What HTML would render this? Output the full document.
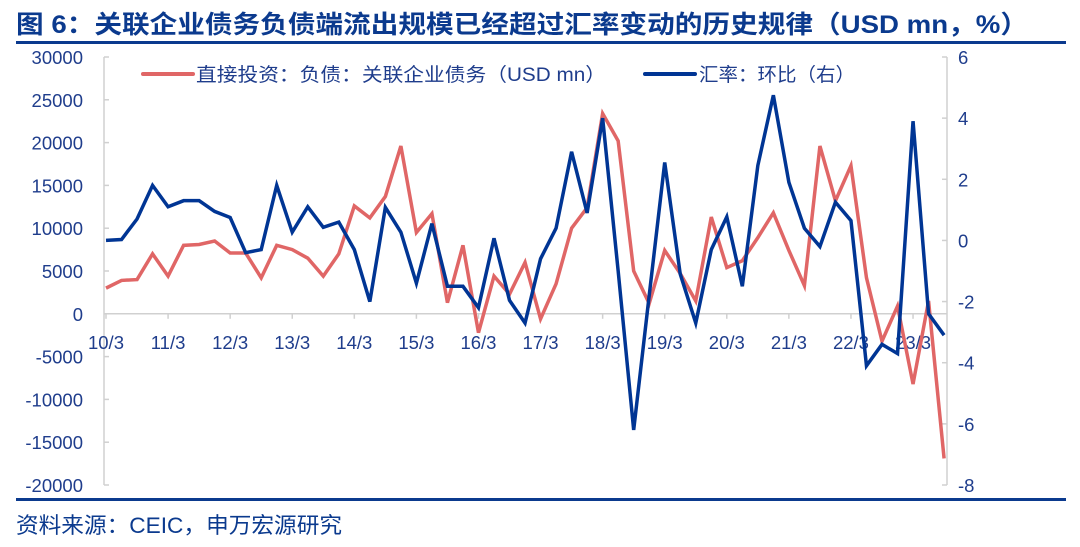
<!DOCTYPE html>
<html><head><meta charset="utf-8">
<style>
body{margin:0;width:1080px;height:542px;background:#fff;overflow:hidden;font-family:"Liberation Sans","Noto Sans CJK SC",sans-serif;}
svg text{font-family:"Liberation Sans","Noto Sans CJK SC",sans-serif;}
</style></head>
<body>
<svg id="chart" width="1080" height="542" xmlns="http://www.w3.org/2000/svg">
<text x="16" y="33" font-size="25" font-weight="bold" fill="#0b3a8e" textLength="1012" lengthAdjust="spacingAndGlyphs">图 6：关联企业债务负债端流出规模已经超过汇率变动的历史规律（USD mn，%）</text>
<rect x="16" y="41" width="1050" height="3" fill="#0b3a8e"/>
<rect x="16" y="498" width="1050" height="3" fill="#0b3a8e"/>
<text x="16" y="533" font-size="22" fill="#0b3a8e" textLength="326" lengthAdjust="spacingAndGlyphs">资料来源：CEIC，申万宏源研究</text>
<g id="axes"></g>
<g id="marks"></g>
<g>
<line x1="143" y1="74" x2="193" y2="74" stroke="#e06666" stroke-width="4" stroke-linecap="round"/>
<text x="196" y="81" font-size="19" fill="#1f3d8c" textLength="410" lengthAdjust="spacingAndGlyphs">直接投资：负债：关联企业债务（USD  mn）</text>
<line x1="645" y1="74" x2="695" y2="74" stroke="#003594" stroke-width="4" stroke-linecap="round"/>
<text x="699" y="81" font-size="19" fill="#1f3d8c" textLength="156" lengthAdjust="spacingAndGlyphs">汇率：环比（右）</text>
</g>
</svg>
<script>
const yearLabels = ["10/3","11/3","12/3","13/3","14/3","15/3","16/3","17/3","18/3","19/3","20/3","21/3","22/3","23/3"];
const leftTicks = [30000,25000,20000,15000,10000,5000,0,-5000,-10000,-15000,-20000];
const rightTicks = [6,4,2,0,-2,-4,-6,-8];
const fdiDebt = [3000,3900,4000,7000,4400,8000,8100,8500,7100,7100,4200,8000,7500,6500,4400,7000,12600,11200,13700,19600,9500,11700,1300,8000,-2200,4400,2300,6000,-600,3500,10000,12400,23400,20200,5000,1200,7400,4700,1500,11300,5400,6200,8900,11800,7400,3300,19600,13200,17300,4200,-3200,900,-8200,1500,-16900];
const fxQoQ = [0.0,0.03,0.7,1.8,1.1,1.3,1.3,0.95,0.75,-0.4,-0.3,1.8,0.27,1.1,0.43,0.6,-0.3,-2.0,1.08,0.27,-1.4,0.55,-1.5,-1.5,-2.2,0.07,-1.96,-2.7,-0.6,0.4,2.9,0.9,4.0,-1.0,-6.2,-1.8,2.55,-1.1,-2.7,-0.3,0.77,-1.5,2.45,4.75,1.9,0.4,-0.2,1.25,0.65,-4.1,-3.4,-3.7,3.9,-2.4,-3.1];

const NS="http://www.w3.org/2000/svg";
const X0=106, QW=15.52, TOP=57, BOT=485;
const xq = i => X0 + i*QW;
const yL = v => BOT - (v - (-20000)) / 50000 * (BOT-TOP);
const yR = v => BOT - (v - (-8)) / 14 * (BOT-TOP);
const axes=document.getElementById('axes'), marks=document.getElementById('marks');
function mk(tag,attrs,parent){const e=document.createElementNS(NS,tag);for(const k in attrs)e.setAttribute(k,attrs[k]);parent.appendChild(e);return e;}
const grey="#d0d0d0", txt="#1f3d8c";
let e;
e=mk('line',{x1:104,y1:TOP,x2:104,y2:BOT,stroke:grey,'stroke-width':1.5},axes);


e=mk('line',{x1:947,y1:TOP,x2:947,y2:BOT,stroke:grey,'stroke-width':1.5},axes);


e=mk('line',{x1:104,y1:yL(0),x2:947,y2:yL(0),stroke:grey,'stroke-width':1.5},axes);


leftTicks.forEach(v=>{
  const y=yL(v);
  let t=mk('line',{x1:104,y1:y,x2:109,y2:y,stroke:grey,'stroke-width':1.5},axes);
  
  
  let l=mk('text',{x:83,y:y+7,'font-size':18.5,fill:txt,'text-anchor':'end'},axes);
  l.textContent=v;
  
  
});
rightTicks.forEach(v=>{
  const y=yR(v);
  let t=mk('line',{x1:942,y1:y,x2:947,y2:y,stroke:grey,'stroke-width':1.5},axes);
  
  
  let l=mk('text',{x:958,y:y+7,'font-size':18.5,fill:txt},axes);
  l.textContent=v;
  
  
});
yearLabels.forEach((s,k)=>{
  const x=xq(k*4), y0=yL(0);
  let t=mk('line',{x1:x,y1:y0,x2:x,y2:y0+5,stroke:grey,'stroke-width':1.5},axes);
  
  
  let l=mk('text',{x:x,y:y0+35,'font-size':18.5,fill:txt,'text-anchor':'middle'},axes);
  l.textContent=s;
  
  
});
let p=mk('polyline',{points:fdiDebt.map((v,i)=>xq(i)+','+yL(v)).join(' '),fill:'none',stroke:'#e06666','stroke-width':3.5,'stroke-linejoin':'miter'},marks);


p=mk('polyline',{points:fxQoQ.map((v,i)=>xq(i)+','+yR(v)).join(' '),fill:'none',stroke:'#003594','stroke-width':3.5,'stroke-linejoin':'miter'},marks);


</script>
</body></html>
